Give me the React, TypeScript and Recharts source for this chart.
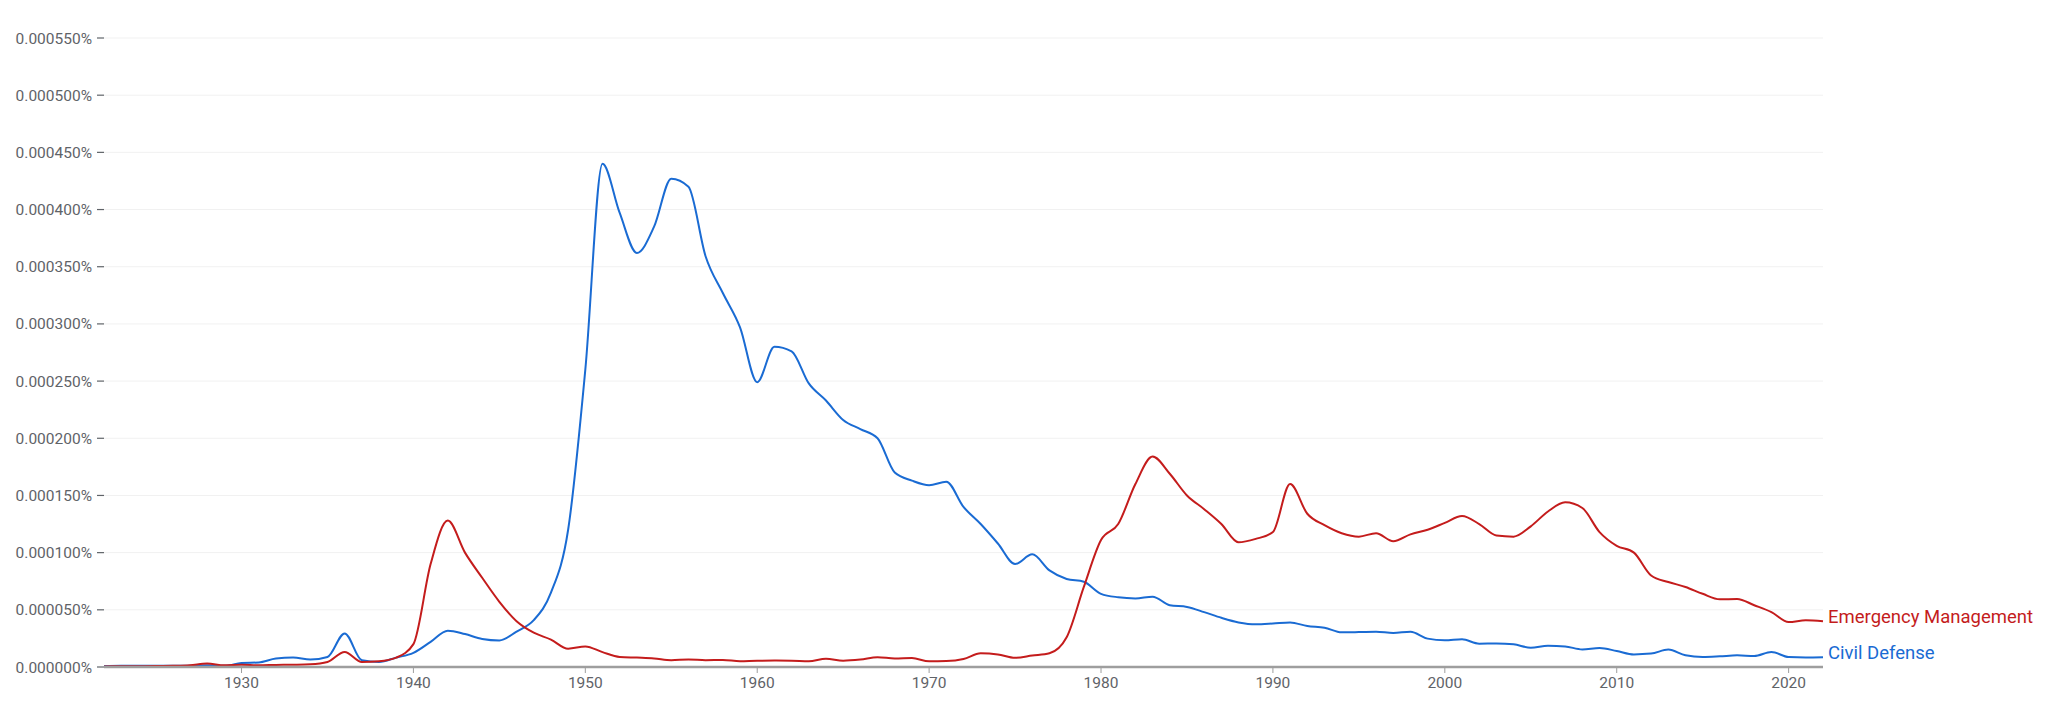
import React from "react";
import { LineChart, Line, XAxis, YAxis, CartesianGrid } from "recharts";

const years: number[] = [
  1922, 1923, 1924, 1925, 1926, 1927, 1928, 1929, 1930, 1931, 1932, 1933, 1934, 1935, 1936, 1937, 1938, 1939,
  1940, 1941, 1942, 1943, 1944, 1945, 1946, 1947, 1948, 1949, 1950, 1951, 1952, 1953, 1954, 1955, 1956, 1957,
  1958, 1959, 1960, 1961, 1962, 1963, 1964, 1965, 1966, 1967, 1968, 1969, 1970, 1971, 1972, 1973, 1974, 1975,
  1976, 1977, 1978, 1979, 1980, 1981, 1982, 1983, 1984, 1985, 1986, 1987, 1988, 1989, 1990, 1991, 1992, 1993,
  1994, 1995, 1996, 1997, 1998, 1999, 2000, 2001, 2002, 2003, 2004, 2005, 2006, 2007, 2008, 2009, 2010, 2011,
  2012, 2013, 2014, 2015, 2016, 2017, 2018, 2019, 2020, 2021, 2022,
];

const civilDefense: number[] = [
  0.0000008, 0.000001, 0.0000012, 0.0000012, 0.000001, 0.000001, 0.0000015, 0.000001, 0.0000035, 0.000004,
  0.0000074, 0.0000082, 0.0000065, 0.0000088, 0.0000294, 0.0000059, 0.0000044, 0.0000082, 0.0000124, 0.000022,
  0.0000318, 0.0000288, 0.0000245, 0.0000232, 0.000031, 0.000041, 0.000065, 0.00012, 0.00026, 0.00044,
  0.000397, 0.000362, 0.000385, 0.000427, 0.00042, 0.000359, 0.000327, 0.000297, 0.000249, 0.00028,
  0.000276, 0.000248, 0.000233, 0.000216, 0.000208, 0.0002, 0.00017, 0.000163, 0.000159, 0.000162,
  0.00014, 0.000125, 0.000108, 0.00009, 0.0000985, 0.0000845, 0.000077, 0.0000745, 0.000064, 0.000061,
  0.00006, 0.0000615, 0.000054, 0.0000525, 0.000048, 0.000043, 0.000039, 0.0000373, 0.000038, 0.000039,
  0.0000358, 0.0000344, 0.0000303, 0.0000305, 0.0000308, 0.0000298, 0.0000308, 0.0000248, 0.0000233, 0.0000242,
  0.0000204, 0.0000206, 0.0000198, 0.0000169, 0.0000186, 0.000018, 0.0000154, 0.0000166, 0.000014, 0.000011,
  0.0000117, 0.0000152, 0.0000102, 0.0000087, 0.0000093, 0.0000102, 0.0000096, 0.0000131, 0.0000087, 0.0000084,
  0.0000086,
];

const emergencyManagement: number[] = [
  0.0000005, 0.0000006, 0.0000007, 0.0000008, 0.000001, 0.0000015, 0.000003, 0.0000015, 0.000002, 0.0000015,
  0.0000018, 0.000002, 0.0000024, 0.0000044, 0.0000132, 0.0000044, 0.000005, 0.0000082, 0.00002, 0.00009,
  0.000128, 0.0001, 0.000078, 0.000057, 0.00004, 0.00003, 0.000024, 0.000016, 0.000018, 0.000013,
  0.0000088, 0.0000082, 0.0000075, 0.000006, 0.0000065, 0.000006, 0.0000062, 0.000005, 0.0000055, 0.0000056,
  0.0000055, 0.000005, 0.0000072, 0.0000055, 0.0000065, 0.0000085, 0.0000075, 0.0000078, 0.000005, 0.0000052,
  0.000007, 0.000012, 0.000011, 0.000008, 0.00001, 0.000012, 0.000026, 0.00007, 0.000111, 0.000125,
  0.00016, 0.000184, 0.000169, 0.00015, 0.000138, 0.000125, 0.000109, 0.000112, 0.000118, 0.00016,
  0.000134, 0.000124, 0.000117, 0.000114, 0.000117, 0.00011, 0.000116, 0.00012, 0.000126, 0.000132,
  0.000125, 0.000115, 0.000114, 0.000123, 0.000136, 0.000144, 0.000139, 0.000118, 0.000106, 0.0001,
  0.00008, 0.0000743, 0.00007, 0.000064, 0.0000592, 0.0000595, 0.000054, 0.000048, 0.0000393, 0.0000408,
  0.00004,
];

const xTicks: number[] = [1930, 1940, 1950, 1960, 1970, 1980, 1990, 2000, 2010, 2020];
const yTicks: number[] = [
  0, 0.00005, 0.0001, 0.00015, 0.0002, 0.00025, 0.0003, 0.00035, 0.0004, 0.00045, 0.0005, 0.00055,
];

const seriesNames = { civil: "Civil Defense", emergency: "Emergency Management" };
const RED = "#c41c1c";
const BLUE = "#1a6bd3";
const TEXT = "#5f6368";

const data = years.map((y, i) => ({
  year: y,
  civil: civilDefense[i],
  emergency: emergencyManagement[i],
}));

const lastIndex = years.length - 1;

const makeEndLabel = (name: string, color: string) => (props: any) => {
  const { x, y, index } = props;
  if (index !== lastIndex) return <g />;
  return (
    <text
      x={Number(x) + 5}
      y={Number(y) - 4}
      fill={color}
      fontSize={18.5}
      fontFamily="Roboto"
      dominantBaseline="central"
      textAnchor="start"
    >
      {name}
    </text>
  );
};

export default function App() {
  return (
    <div style={{ position: "absolute", left: 0, top: 0, background: "#fff" }}>
      <LineChart
        width={2048}
        height={708}
        data={data}
        margin={{ top: 38, right: 225, bottom: 0, left: 0 }}
        style={{ fontFamily: "Roboto" }}
      >
        <CartesianGrid horizontal vertical={false} stroke="#f1f1f1" strokeWidth={1} />
        <XAxis
          dataKey="year"
          type="number"
          domain={[1922, 2022]}
          ticks={xTicks}
          height={41}
          axisLine={{ stroke: "#9e9e9e", strokeWidth: 2.5 }}
          tickLine={{ stroke: "#9e9e9e", strokeWidth: 1 }}
          tickSize={6}
          tickMargin={4}
          tick={{ fill: TEXT, fontSize: 15.5, fontFamily: "Roboto" }}
          allowDecimals={false}
        />
        <YAxis
          type="number"
          domain={[0, 0.00055]}
          ticks={yTicks}
          width={104}
          axisLine={false}
          tickLine={{ stroke: TEXT, strokeWidth: 1.2 }}
          tickSize={7}
          tickMargin={5}
          tick={{ fill: TEXT, fontSize: 15.5, fontFamily: "Roboto" }}
          tickFormatter={(v: number) => v.toFixed(6) + "%"}
          interval={0}
        />
        <Line
          type="monotone"
          dataKey="civil"
          name={seriesNames.civil}
          stroke={BLUE}
          strokeWidth={2}
          dot={false}
          activeDot={false}
          isAnimationActive={false}
          label={makeEndLabel(seriesNames.civil, BLUE)}
        />
        <Line
          type="monotone"
          dataKey="emergency"
          name={seriesNames.emergency}
          stroke={RED}
          strokeWidth={2}
          dot={false}
          activeDot={false}
          isAnimationActive={false}
          label={makeEndLabel(seriesNames.emergency, RED)}
        />
      </LineChart>
    </div>
  );
}
